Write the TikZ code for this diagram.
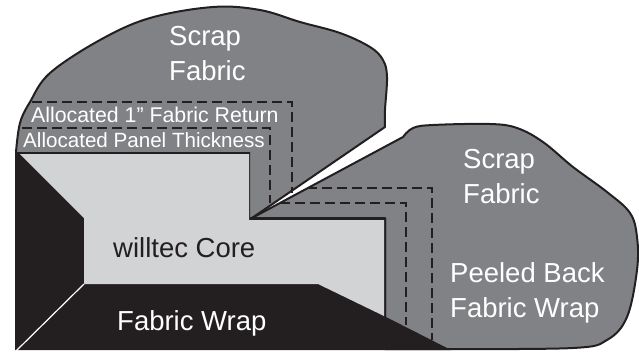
\documentclass[tikz,border=0pt]{standalone}
\usepackage{fontspec}
\setmainfont{Liberation Sans}
\usetikzlibrary{positioning}
\definecolor{scrapgray}{HTML}{808285}
\definecolor{wrapblack}{HTML}{231F20}
\definecolor{coregray}{HTML}{D1D3D4}

\begin{document}
\begin{tikzpicture}[
        x=1pt, y=-1pt,
        flap/.style={draw=wrapblack, line width=2pt, fill=scrapgray, line join=round},
        allow/.style={draw=wrapblack, line width=2pt, dash pattern=on 10pt off 5pt},
        label/.style={anchor=base west, inner sep=0pt, white, font=\fontsize{27.5}{28}\selectfont},
        small/.style={anchor=base west, inner sep=0pt, white, font=\fontsize{21.3}{21}\selectfont}
    ]
    \useasboundingbox (0,0) rectangle (639,351);

    % Upper scrap flap
    \draw[flap] (252,218) -- (16,218) -- (16,152)
        -- plot[smooth, tension=0.6] coordinates {(16,152) (20,123) (30,102) (50,73) (100,40) (150,18) (213,7) (260,10) (300,22) (340,33) (370,47) (383,60) (387,77) (385,110) (385,127)}
        -- cycle;

    % Lower scrap flap
    \draw[flap] (252,218) -- (403,137)
        -- plot[smooth, tension=0.6] coordinates {(403,137) (413,128) (433,125) (490,124) (517,128) (543,142) (573,167) (607,192) (630,213) (637,237) (637,270) (627,317) (607,340) (573,348) (450,349)}
        -- (385,349) -- (385,218) -- cycle;

    % Fabric wrap and core
    \fill[wrapblack] (15,152) -- (250,152) -- (250,218) -- (386,218) -- (386,317) -- (451,350) -- (15,350) -- cycle;
    \fill[coregray] (20,154) -- (249,154) -- (249,220) -- (384,220) -- (384,316) -- (318,284) -- (84,284) -- (84,218) -- cycle;
    \draw[white, line width=1.2pt] (84,284) -- (16,351);

    % Allocated lines, upper flap
    \draw[allow] (32,102) -- (292,102) -- (292,193);
    \draw[allow] (22,128) -- (270,128) -- (270,203);

    % Allocated lines, lower flap
    \draw[allow] (307,188) -- (432,188) -- (432,340);
    \draw[allow] (280,203) -- (406,203) -- (406,325);

    % Labels
    \node[label] (scrapa) at (169,45) {Scrap};
    \node[label] (fabrica) at (169,80) {Fabric};
    \node[small] (returnlbl) at (31,122) {Allocated 1” Fabric Return};
    \node[small, font=\fontsize{20.6}{21}\selectfont] (panellbl) at (23,147) {Allocated Panel Thickness};
    \node[label] (scrapb) at (463,168) {Scrap};
    \node[label] (fabricb) at (463,203) {Fabric};
    \node[label, text=wrapblack] (core) at (113,257) {willtec Core};
    \node[label] (wrap) at (117,330) {Fabric Wrap};
    \node[label] (peeled) at (450,282) {Peeled Back};
    \node[label] (peeledwrap) at (450,317) {Fabric Wrap};

\end{tikzpicture}
\end{document}
